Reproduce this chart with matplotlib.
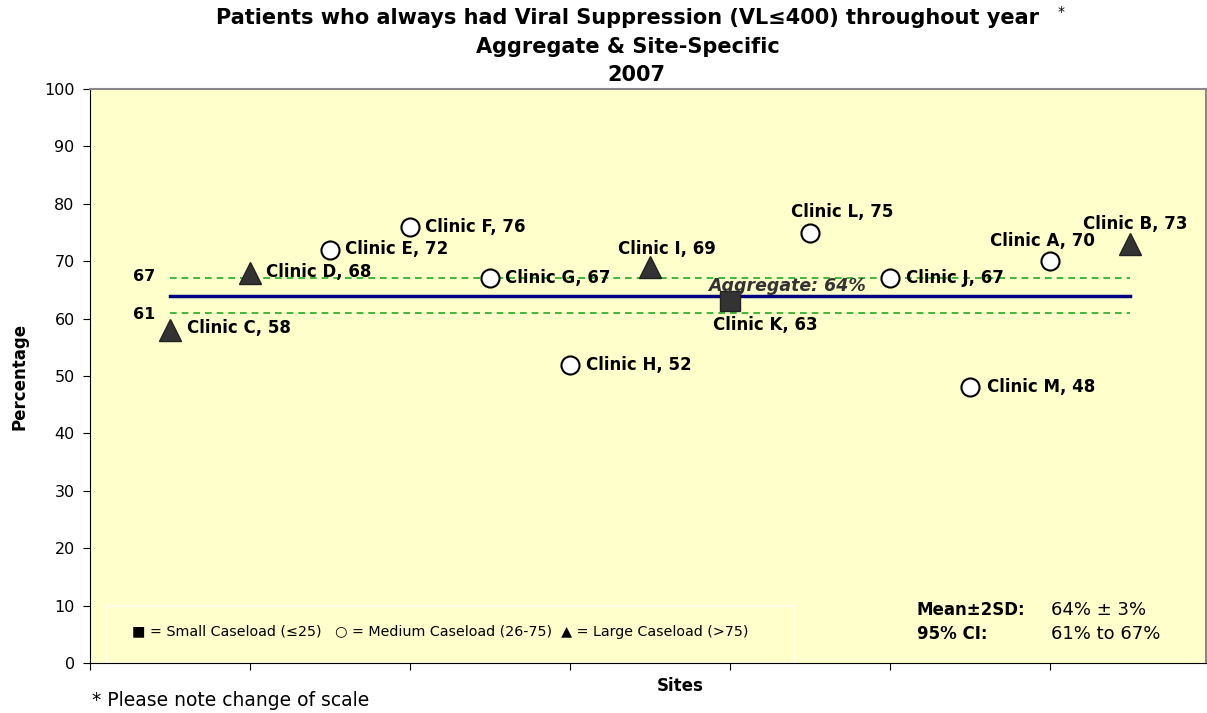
import matplotlib
matplotlib.use("Agg")
import matplotlib.pyplot as plt
from matplotlib.patches import Rectangle

plt.rcParams['font.family'] = ['DejaVu Sans']

# data
clinics = ['C', 'D', 'E', 'F', 'G', 'H', 'I', 'K', 'L', 'J', 'M', 'A', 'B']
site_pos = [0.5, 1.0, 1.5, 2.0, 2.5, 3.0, 3.5, 4.0, 4.5, 5.0, 5.5, 6.0, 6.5]
pct = [58, 68, 72, 76, 67, 52, 69, 63, 75, 67, 48, 70, 73]
caseload = ['large', 'large', 'medium', 'medium', 'medium', 'medium', 'large',
            'small', 'medium', 'medium', 'medium', 'medium', 'large']
aggregate = 64
ci_low, ci_high = 61, 67

# label placement (pixel offset from marker, horizontal alignment)
label_offsets = {
    'C': (17, 2, 'left'), 'D': (16, 1, 'left'), 'E': (15, 1, 'left'),
    'F': (15, 0, 'left'), 'G': (15, 0, 'left'), 'H': (16, 0, 'left'),
    'I': (17, 18, 'center'), 'K': (35, -24, 'center'), 'L': (32, 20, 'center'),
    'J': (16, 0, 'left'), 'M': (17, 0, 'left'), 'A': (-8, 20, 'center'),
    'B': (5, 20, 'center'),
}
PX = 0.72  # points per pixel at 100 dpi

marker_style = {
    'small':  dict(marker='s', ms=14, mfc='#333333', mec='#222222'),
    'medium': dict(marker='o', ms=13, mfc='white', mec='black', mew=1.5),
    'large':  dict(marker='^', ms=16, mfc='#333333', mec='#222222'),
}

fig = plt.figure(figsize=(12.07, 7.13), dpi=100, facecolor='white')
ax = fig.add_axes([90 / 1207, 50 / 713, 1116 / 1207, 574 / 713])
ax.set_facecolor('#FFFFCC')

ax.set_xlim(0, 6.975)
ax.set_ylim(0, 100)
ax.set_yticks(range(0, 101, 10))
ax.set_xticks(range(0, 7))
ax.set_xticklabels([])
ax.tick_params(axis='y', labelsize=11.5, length=5, direction='out', pad=6)
ax.tick_params(axis='x', length=5, direction='out')
for s in ['top', 'right']:
    ax.spines[s].set_color('#888888')
    ax.spines[s].set_linewidth(1.5)
for s in ['left', 'bottom']:
    ax.spines[s].set_color('black')

# aggregate & CI lines
x0, x1 = site_pos[0], site_pos[-1]
ax.plot([x0, x1], [aggregate, aggregate], color='#000080', lw=2.5, zorder=2)
for v in (ci_low, ci_high):
    ax.plot([x0, x1], [v, v], color='#22AA22', lw=1.2, ls=(0, (4, 3)), zorder=2)
    ax.annotate(str(v), (x0, v), xytext=(-37 * PX, (2 if v == ci_high else -2) * PX),
                textcoords='offset points', fontsize=11.5, fontweight='bold',
                va='center', ha='left')

ax.annotate('Aggregate: 64%', (4.0, aggregate), xytext=(-22 * PX, 10 * PX),
            textcoords='offset points', fontsize=12.5, fontweight='bold',
            fontstyle='italic', color='#333333', ha='left', va='center', zorder=4)

for name, x, y, kind in zip(clinics, site_pos, pct, caseload):
    ax.plot([x], [y], ls='none', zorder=3, **marker_style[kind])
    dx, dy, ha = label_offsets[name]
    ax.annotate(f'Clinic {name}, {y}', (x, y), xytext=(dx * PX, dy * PX),
                textcoords='offset points', fontsize=12, fontweight='bold',
                ha=ha, va='center', zorder=4)

# legend box
ax.add_patch(Rectangle((107, 50), 688, 57, transform=None, fill=False,
                       ec='#FFFFF0', lw=1.2, zorder=1))
fig.text(132 / 1207, 1 - 632 / 713,
         '\u25A0 = Small Caseload (\u226425)   \u25CB = Medium Caseload (26-75)  '
         '\u25B2 = Large Caseload (>75)', fontsize=10.3, va='center', ha='left')

# stats box
fig.text(917 / 1207, 1 - 610 / 713, 'Mean\u00b12SD:', fontsize=12,
         fontweight='bold', va='center')
fig.text(1051 / 1207, 1 - 610 / 713, '64% \u00b1 3%', fontsize=13, va='center')
fig.text(917 / 1207, 1 - 634 / 713, '95% CI:', fontsize=12,
         fontweight='bold', va='center')
fig.text(1051 / 1207, 1 - 634 / 713, '61% to 67%', fontsize=13, va='center')

ax.set_ylabel('Percentage', fontsize=12, fontweight='bold')
ax.yaxis.set_label_coords(-62 / 1116, (663 - 376) / 574)
fig.text(680 / 1207, 1 - 686 / 713, 'Sites', fontsize=12, fontweight='bold',
         ha='center', va='center')
fig.text(92 / 1207, 1 - 700 / 713, '* Please note change of scale',
         fontsize=13.5, va='center')

# title
fig.text(628 / 1207, 1 - 18 / 713,
         'Patients who always had Viral Suppression (VL\u2264400) throughout year',
         fontsize=15, fontweight='bold', ha='center', va='center')
fig.text(1058 / 1207, 1 - 12 / 713, '*', fontsize=10, ha='left', va='center')
fig.text(628 / 1207, 1 - 47 / 713, 'Aggregate & Site-Specific',
         fontsize=15, fontweight='bold', ha='center', va='center')
fig.text(636 / 1207, 1 - 75 / 713, '2007', fontsize=15, fontweight='bold',
         ha='center', va='center')

fig.savefig('out.png', dpi=100, facecolor='white')
